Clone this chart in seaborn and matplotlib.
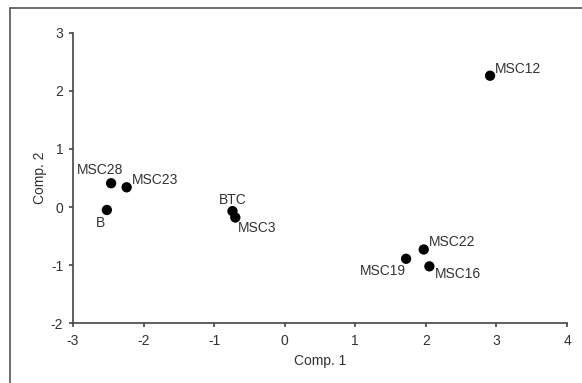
import matplotlib
matplotlib.use("Agg")
import matplotlib.pyplot as plt
from matplotlib.lines import Line2D
import seaborn as sns
import pandas as pd

# PCA scores
samples = ["MSC12", "MSC28", "MSC23", "B", "BTC", "MSC3", "MSC22", "MSC19", "MSC16"]
comp1 = [2.91, -2.46, -2.24, -2.52, -0.74, -0.70, 1.97, 1.72, 2.05]
comp2 = [2.26, 0.41, 0.34, -0.05, -0.07, -0.18, -0.73, -0.89, -1.02]

# label offsets in pixels (dx, dy, ha)
offsets = {
    "MSC12": (5, 7, "left"),
    "MSC28": (-11, 13, "center"),
    "MSC23": (5, 7, "left"),
    "B": (-6, -13, "center"),
    "BTC": (0, 11, "center"),
    "MSC3": (3, -10, "left"),
    "MSC22": (5, 7, "left"),
    "MSC19": (0, -12, "right"),
    "MSC16": (5, -8, "left"),
}

df = pd.DataFrame({"sample": samples, "Comp. 1": comp1, "Comp. 2": comp2})

sns.set_style("ticks")
plt.rcParams["font.family"] = ["Liberation Sans", "DejaVu Sans"]
plt.rcParams["axes.unicode_minus"] = False
txt = "#333333"

fig = plt.figure(figsize=(5.82, 3.83), dpi=100)
ax = fig.add_axes([73 / 582, 1 - 323.3 / 383, 494 / 582, 290.6 / 383])

sns.scatterplot(data=df, x="Comp. 1", y="Comp. 2", color="black", s=55,
                edgecolor="none", ax=ax, legend=False)

px = 0.72  # points per pixel at dpi 100
for name, x, y in zip(samples, comp1, comp2):
    dx, dy, ha = offsets[name]
    ax.annotate(name, (x, y), xytext=(dx * px, dy * px), textcoords="offset points",
                ha=ha, va="center", fontsize=10, color=txt)

ax.set_xlim(-3, 4)
ax.set_ylim(-2, 3)
ax.set_xticks(range(-3, 5))
ax.set_yticks(range(-2, 4))
ax.set_xlabel("Comp. 1", fontsize=10, color=txt, labelpad=4)
ax.set_ylabel("Comp. 2", fontsize=10, color=txt, labelpad=2.5)
ax.tick_params(axis="both", labelsize=10, colors="#444444", labelcolor=txt,
               length=3, width=1.2, direction="out")
ax.tick_params(axis="x", pad=5)
ax.tick_params(axis="y", pad=4)
for side in ["top", "right"]:
    ax.spines[side].set_visible(False)
for side in ["left", "bottom"]:
    ax.spines[side].set_color("#444444")
    ax.spines[side].set_linewidth(1.2)

# outer frame (top and left edges visible in the reference)
fig.add_artist(Line2D([9.5 / 582, 9.5 / 582], [0, 1 - 7.5 / 383],
                      transform=fig.transFigure, color="#555555", lw=1.2))
fig.add_artist(Line2D([9.5 / 582, 1], [1 - 7.5 / 383, 1 - 7.5 / 383],
                      transform=fig.transFigure, color="#555555", lw=1.2))

fig.savefig("out.png", dpi=100)
